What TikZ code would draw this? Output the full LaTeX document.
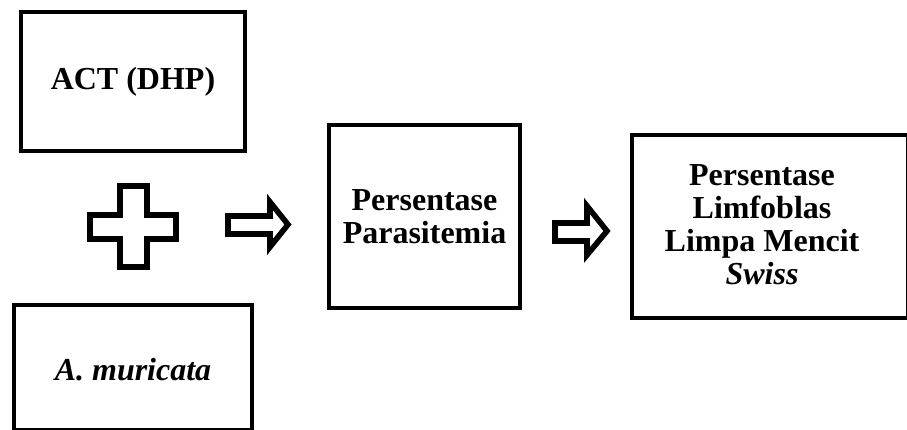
\documentclass[tikz,border=0pt]{standalone}
\usepackage{fontspec}
\setmainfont{Liberation Serif}
\begin{document}
\begin{tikzpicture}[x=1pt,y=-1pt,
  box/.style={draw=black, line width=4.8pt, rectangle, inner sep=0pt, align=center,
    font=\fontsize{32}{33}\selectfont\bfseries},
  lbl/.style={inner sep=0pt, align=center, font=\fontsize{32}{33}\selectfont\bfseries},
  blockarrow/.style={draw=black, line width=5.6pt, miter limit=10, fill=white}]
\useasboundingbox (0,0) rectangle (907,429);
\clip (0,0) rectangle (907,429);
\node[box, minimum width=224pt, minimum height=139pt] (act) at (133,81.5) {ACT (DHP)};
\node[box, minimum width=238pt, minimum height=125pt] (amur) at (133,367.5) {};
\node[lbl] (amurtext) at (133,370) {\textit{A. muricata}};
\node[box, minimum width=191pt, minimum height=183pt] (para) at (424.5,216.5) {Persentase\\Parasitemia};
\node[box, minimum width=276pt, minimum height=183pt] (limf) at (770,226.5) {};
\node[lbl] (limftext) at (762,225) {Persentase\\Limfoblas\\Limpa Mencit\\\textit{Swiss}};
% plus sign
\draw[blockarrow] (120,186) -- (147,186) -- (147,215) -- (176,215) -- (176,239) -- (147,239)
  -- (147,267) -- (120,267) -- (120,239) -- (90,239) -- (90,215) -- (120,215) -- cycle;
% block arrows
\draw[blockarrow] (228,216) -- (270,216) -- (270,202) -- (288,224.5) -- (270,247) -- (270,234) -- (228,234) -- cycle;
\draw[blockarrow] (555,223) -- (587,223) -- (587,206) -- (607,231) -- (587,255) -- (587,241) -- (555,241) -- cycle;
\end{tikzpicture}
\end{document}
